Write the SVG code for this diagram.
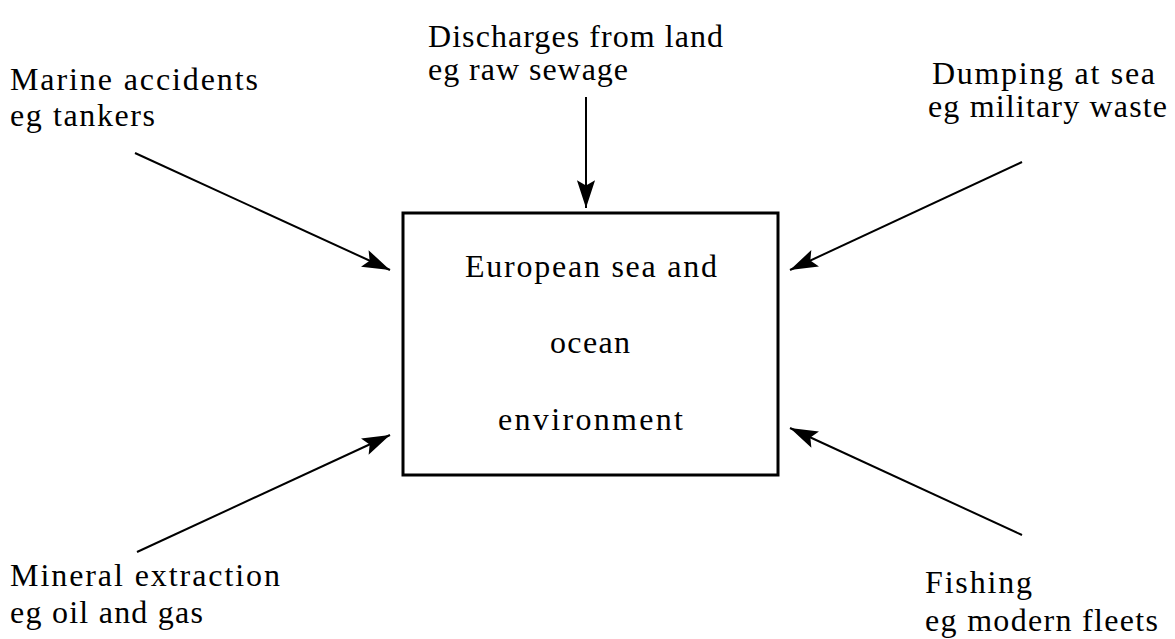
<svg xmlns="http://www.w3.org/2000/svg" width="1175" height="639" viewBox="0 0 1175 639">
<style>
text{font-family:'Liberation Serif','Times New Roman',Times,serif;font-size:32px;fill:#000}
.c{stroke:#000;stroke-width:2;fill:none}
</style>
<defs>
<marker id="ah" markerUnits="userSpaceOnUse" markerWidth="32" markerHeight="22" viewBox="-28 -9 30 18" refX="0" refY="0" orient="auto">
<path d="M0,0 L-26,-8.5 L-21,0 L-26,8.5 Z" fill="#000"/>
</marker>
</defs>
<rect width="1175" height="639" fill="#fff"/>
<g id="connectors">
<line class="c" x1="586" y1="97" x2="586" y2="208" marker-end="url(#ah)"/>
<line class="c" x1="135" y1="153" x2="390" y2="270" marker-end="url(#ah)"/>
<line class="c" x1="137" y1="552" x2="390" y2="435" marker-end="url(#ah)"/>
<line class="c" x1="1022" y1="162" x2="790" y2="270" marker-end="url(#ah)"/>
<line class="c" x1="1022" y1="535" x2="790" y2="428" marker-end="url(#ah)"/>
</g>
<g id="environment">
<rect x="403" y="213" width="375" height="262" fill="none" stroke="#000" stroke-width="3"/>
<text x="465" y="277" textLength="252" lengthAdjust="spacing">European sea and</text>
<text x="550" y="353" textLength="80" lengthAdjust="spacing">ocean</text>
<text x="498" y="430" textLength="185" lengthAdjust="spacing">environment</text>
</g>
<g id="marine">
<text x="10" y="90" textLength="248" lengthAdjust="spacing">Marine accidents</text>
<text x="10" y="126" textLength="145" lengthAdjust="spacing">eg tankers</text>
</g>
<g id="discharges">
<text x="428" y="47" textLength="295" lengthAdjust="spacing">Discharges from land</text>
<text x="428" y="80" textLength="200" lengthAdjust="spacing">eg raw sewage</text>
</g>
<g id="dumping">
<text x="932" y="84" textLength="223" lengthAdjust="spacing">Dumping at sea</text>
<text x="928" y="117" textLength="239" lengthAdjust="spacing">eg military waste</text>
</g>
<g id="mineral">
<text x="10" y="586" textLength="270" lengthAdjust="spacing">Mineral extraction</text>
<text x="10" y="623" textLength="193" lengthAdjust="spacing">eg oil and gas</text>
</g>
<g id="fishing">
<text x="925" y="593" textLength="107" lengthAdjust="spacing">Fishing</text>
<text x="925" y="631" textLength="233" lengthAdjust="spacing">eg modern fleets</text>
</g>
</svg>
